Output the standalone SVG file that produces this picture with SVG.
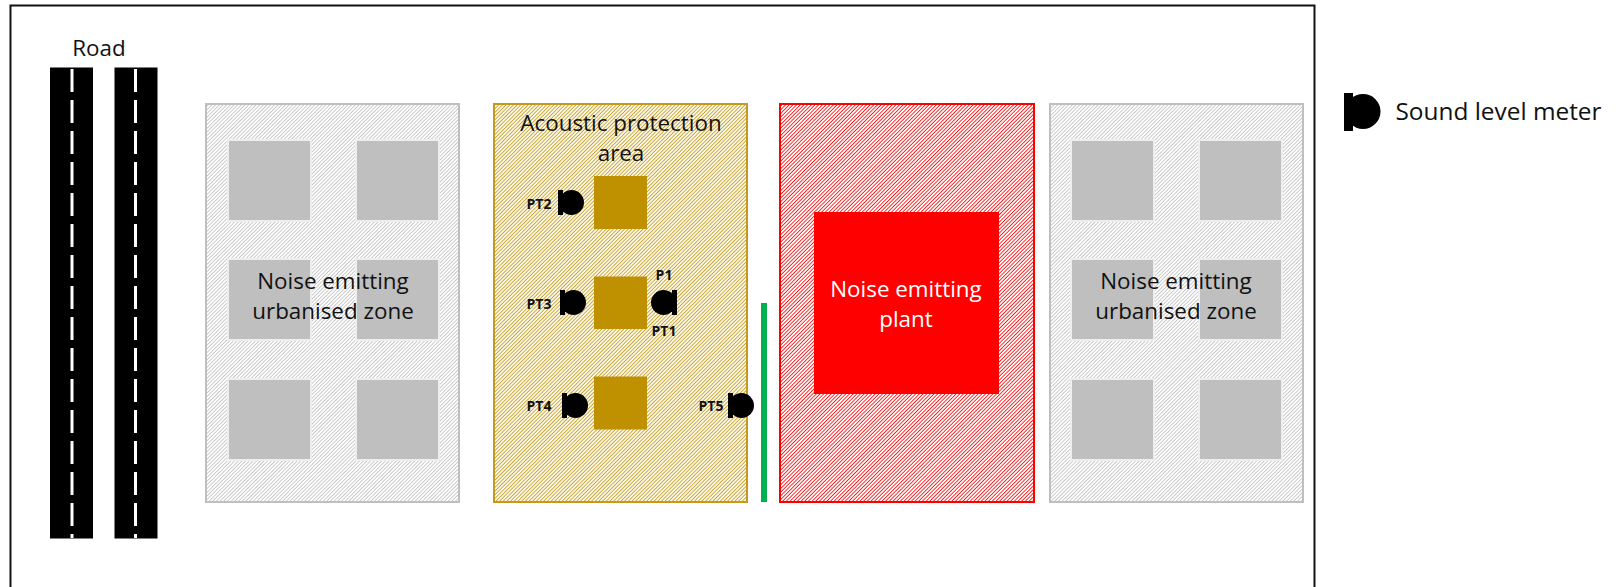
<svg xmlns="http://www.w3.org/2000/svg" width="1620" height="587" viewBox="0 0 1620 587">
<style>
text{font-family:"Open Sans","Noto Sans","Liberation Sans",sans-serif;fill:#111;text-anchor:middle}
.t{font-size:22.4px}
.pt{font-size:14px;font-weight:700}
.g{fill:url(#hg);stroke:#bfbfbf;stroke-width:2}
.s{fill:#bfbfbf;stroke:#eeeeee;stroke-width:2}
.b{fill:#bf9000}
.road{fill:#000}
.dash{stroke:#fff;stroke-width:3;stroke-dasharray:23 8;fill:none}
</style>
<defs>
<pattern id="hg" width="2.6" height="2.6" patternUnits="userSpaceOnUse" patternTransform="rotate(45)"><rect width="2.6" height="2.6" fill="#fff"/><rect width="0.8" height="2.6" fill="#bfbfbf"/></pattern>
<pattern id="hy" width="2.6" height="2.6" patternUnits="userSpaceOnUse" patternTransform="rotate(45)"><rect width="2.6" height="2.6" fill="#fdf9ef"/><rect width="0.8" height="2.6" fill="#c59a18"/></pattern>
<pattern id="hr" width="2.6" height="2.6" patternUnits="userSpaceOnUse" patternTransform="rotate(45)"><rect width="2.6" height="2.6" fill="#fff"/><rect width="0.8" height="2.6" fill="#f00"/></pattern>
<g id="meter"><rect x="0" y="0" width="5" height="25"/><circle cx="13.5" cy="12.5" r="12.5"/></g>
</defs>
<g id="frame"><path d="M10.5 587V5.500H1314.500V587" fill="none" stroke="#111" stroke-width="2"/></g>
<g id="road">
<text class="t" x="99" y="56">Road</text>
<rect class="road" x="50" y="67.500" width="43" height="471"/>
<path class="dash" d="M72 69V538"/>
<rect class="road" x="114.500" y="67.500" width="43" height="471"/>
<path class="dash" d="M135.500 69V538"/>
</g>
<g id="zone-left">
<rect class="g" x="206" y="104" width="253" height="398"/>
<rect class="s" x="228" y="140" width="83" height="81"/><rect class="s" x="356" y="140" width="83" height="81"/>
<rect class="s" x="228" y="259" width="83" height="81"/><rect class="s" x="356" y="259" width="83" height="81"/>
<rect class="s" x="228" y="379" width="83" height="81"/><rect class="s" x="356" y="379" width="83" height="81"/>
<text class="t" x="333" y="289">Noise emitting</text><text class="t" x="333" y="319">urbanised zone</text>
</g>
<g id="acoustic-area">
<rect fill="url(#hy)" stroke="#c59a18" stroke-width="2" x="494" y="104" width="253" height="398"/>
<text class="t" x="621" y="131">Acoustic protection</text><text class="t" x="621" y="161">area</text>
<rect class="b" x="594" y="176" width="53" height="53"/>
<rect class="b" x="594" y="276.500" width="53" height="52.500"/>
<rect class="b" x="594" y="376.500" width="53" height="53"/>
</g>
<g id="PT2"><use href="#meter" x="558" y="190"/><text class="pt" x="539" y="209">PT2</text></g>
<g id="PT3"><use href="#meter" x="560" y="290"/><text class="pt" x="539" y="309">PT3</text></g>
<g id="PT1"><use href="#meter" transform="translate(677,290) scale(-1,1)"/><text class="pt" x="664" y="280">P1</text><text class="pt" x="664" y="336">PT1</text></g>
<g id="PT4"><use href="#meter" x="562" y="393"/><text class="pt" x="539" y="411">PT4</text></g>
<g id="PT5"><use href="#meter" x="728" y="393"/><text class="pt" x="711" y="411">PT5</text></g>
<g id="barrier"><rect x="761" y="303" width="6" height="199" fill="#00b050"/></g>
<g id="plant">
<rect fill="url(#hr)" stroke="#f00" stroke-width="2" x="780" y="104" width="254" height="398"/>
<rect x="814" y="212" width="185" height="182" fill="#f00"/>
<text class="t" x="906" y="297" style="fill:#fff">Noise emitting</text><text class="t" x="906" y="327" style="fill:#fff">plant</text>
</g>
<g id="zone-right">
<rect class="g" x="1050" y="104" width="253" height="398"/>
<rect class="s" x="1071" y="140" width="83" height="81"/><rect class="s" x="1199" y="140" width="83" height="81"/>
<rect class="s" x="1071" y="259" width="83" height="81"/><rect class="s" x="1199" y="259" width="83" height="81"/>
<rect class="s" x="1071" y="379" width="83" height="81"/><rect class="s" x="1199" y="379" width="83" height="81"/>
<text class="t" x="1176" y="289">Noise emitting</text><text class="t" x="1176" y="319">urbanised zone</text>
</g>
<g id="legend">
<rect x="1344" y="93" width="9" height="38"/><circle cx="1363" cy="111.500" r="17.500"/>
<text x="1498.500" y="120" style="font-size:24.400px">Sound level meter</text>
</g>
</svg>
